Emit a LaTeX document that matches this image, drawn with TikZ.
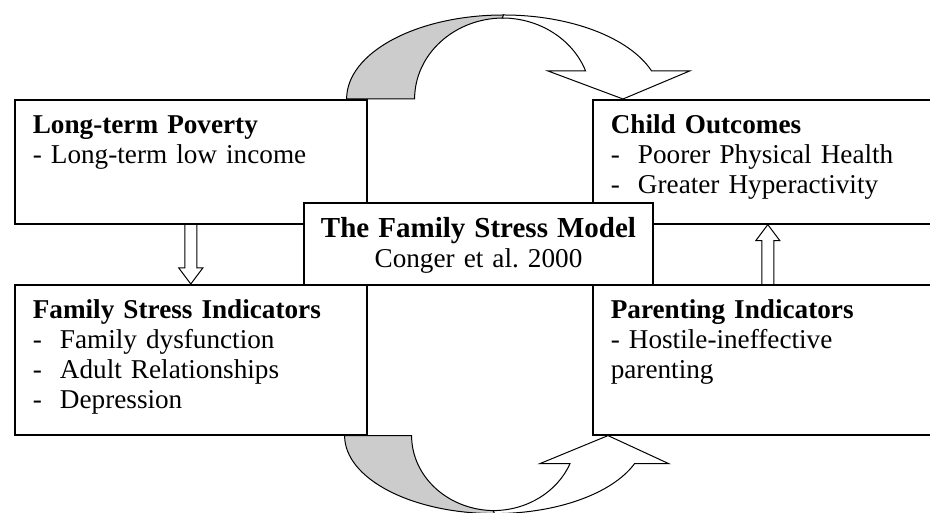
\documentclass[tikz,border=0pt]{standalone}
\usepackage{fontspec}
\setmainfont{Liberation Serif}
\usetikzlibrary{calc}
\tikzset{>=latex}

\begin{document}
\begin{tikzpicture}[x=1pt, y=1pt,
    every node/.style={font=\fontsize{13.6}{15}\selectfont},
    box/.style={draw, line width=0.8pt, rectangle, anchor=north west, align=left, inner xsep=9pt, inner ysep=5pt, text height=12pt},
    loop arrow/.style={draw, line width=0.5pt, line join=miter},
    hollow/.style={draw, line width=0.5pt}]
    \useasboundingbox (0,0) rectangle (465,256.5);
    \clip (0,0) rectangle (465,256.5);

    % Boxes
    \node (pov) [box, text width=158pt, text depth=40pt] at (7,207) {\textbf{Long-term Poverty}\\- Long-term low income};
    \node (child) [box, text width=157pt, text depth=40pt] at (296,207) {\textbf{Child Outcomes}\\-~~Poorer Physical Health\\-~~Greater Hyperactivity};
    \node (fsi) [box, text width=158pt, text depth=53pt] at (7,114.5) {\textbf{Family Stress Indicators}\\-~~Family dysfunction\\-~~Adult Relationships\\-~~Depression};
    \node (par) [box, text width=157pt, text depth=53pt] at (296,114.5) {\textbf{Parenting Indicators}\\- Hostile-ineffective\\parenting};
    \node (model) [draw, line width=0.8pt, fill=white, anchor=north, align=center, text width=164.5pt, inner xsep=5pt, inner ysep=5pt, text height=12.5pt, text depth=18.5pt] at (239.25,155.5) {{\fontsize{14.5}{15}\selectfont\textbf{The Family Stress Model}}\\Conger et al.\ 2000};

    % Curved arrows
    \coordinate (ptail) at ($(pov.north east)+(-10.5,0)$);
    \coordinate (ctip) at ($(child.north west)+(15.5,0)$);
    \draw[loop arrow, fill=gray!40] (ptail) arc[start angle=180, end angle=90, x radius=78.5, y radius=42] -- ++(0,-1.5) arc[start angle=90, end angle=180, x radius=44.5, y radius=40.5] -- cycle;
    \draw[loop arrow, fill=white] ($(ptail)+(78.5,42)$) arc[start angle=90, end angle=19.47, x radius=78.5, y radius=42] -- ++(19,0) -- (ctip) -- ($(ctip)+(-37.5,14)$) -- ++(18.8,0) arc[start angle=20.22, end angle=90, x radius=44.5, y radius=40.5] -- cycle;

    \coordinate (ftail) at ($(fsi.south east)+(-11.5,0)$);
    \coordinate (ptip) at ($(par.south west)+(8,0)$);
    \draw[loop arrow, fill=gray!40] (ftail) arc[start angle=180, end angle=270, x radius=75, y radius=39] -- ++(0,1.5) arc[start angle=270, end angle=180, x radius=41.5, y radius=37.5] -- cycle;
    \draw[loop arrow, fill=white] ($(ftail)+(75,-39)$) arc[start angle=270, end angle=338.97, x radius=75, y radius=39] -- ++(17,0) -- (ptip) -- ($(ptip)+(-34,-14)$) -- ++(15,0) arc[start angle=338.08, end angle=270, x radius=41.5, y radius=37.5] -- cycle;

    % Block arrows
    \draw[hollow] ($(pov.south)+(-3,0)$) -- ($(fsi.north)+(-3,8)$) -- ++(-3,0) -- (fsi.north) -- ++(6,8) -- ++(-3,0) -- ($(pov.south)+(3,0)$);
    \draw[hollow] ($(par.north)+(-3,0)$) -- ($(child.south)+(-3,-8)$) -- ++(-3,0) -- (child.south) -- ++(6,-8) -- ++(-3,0) -- ($(par.north)+(3,0)$);
\end{tikzpicture}
\end{document}
